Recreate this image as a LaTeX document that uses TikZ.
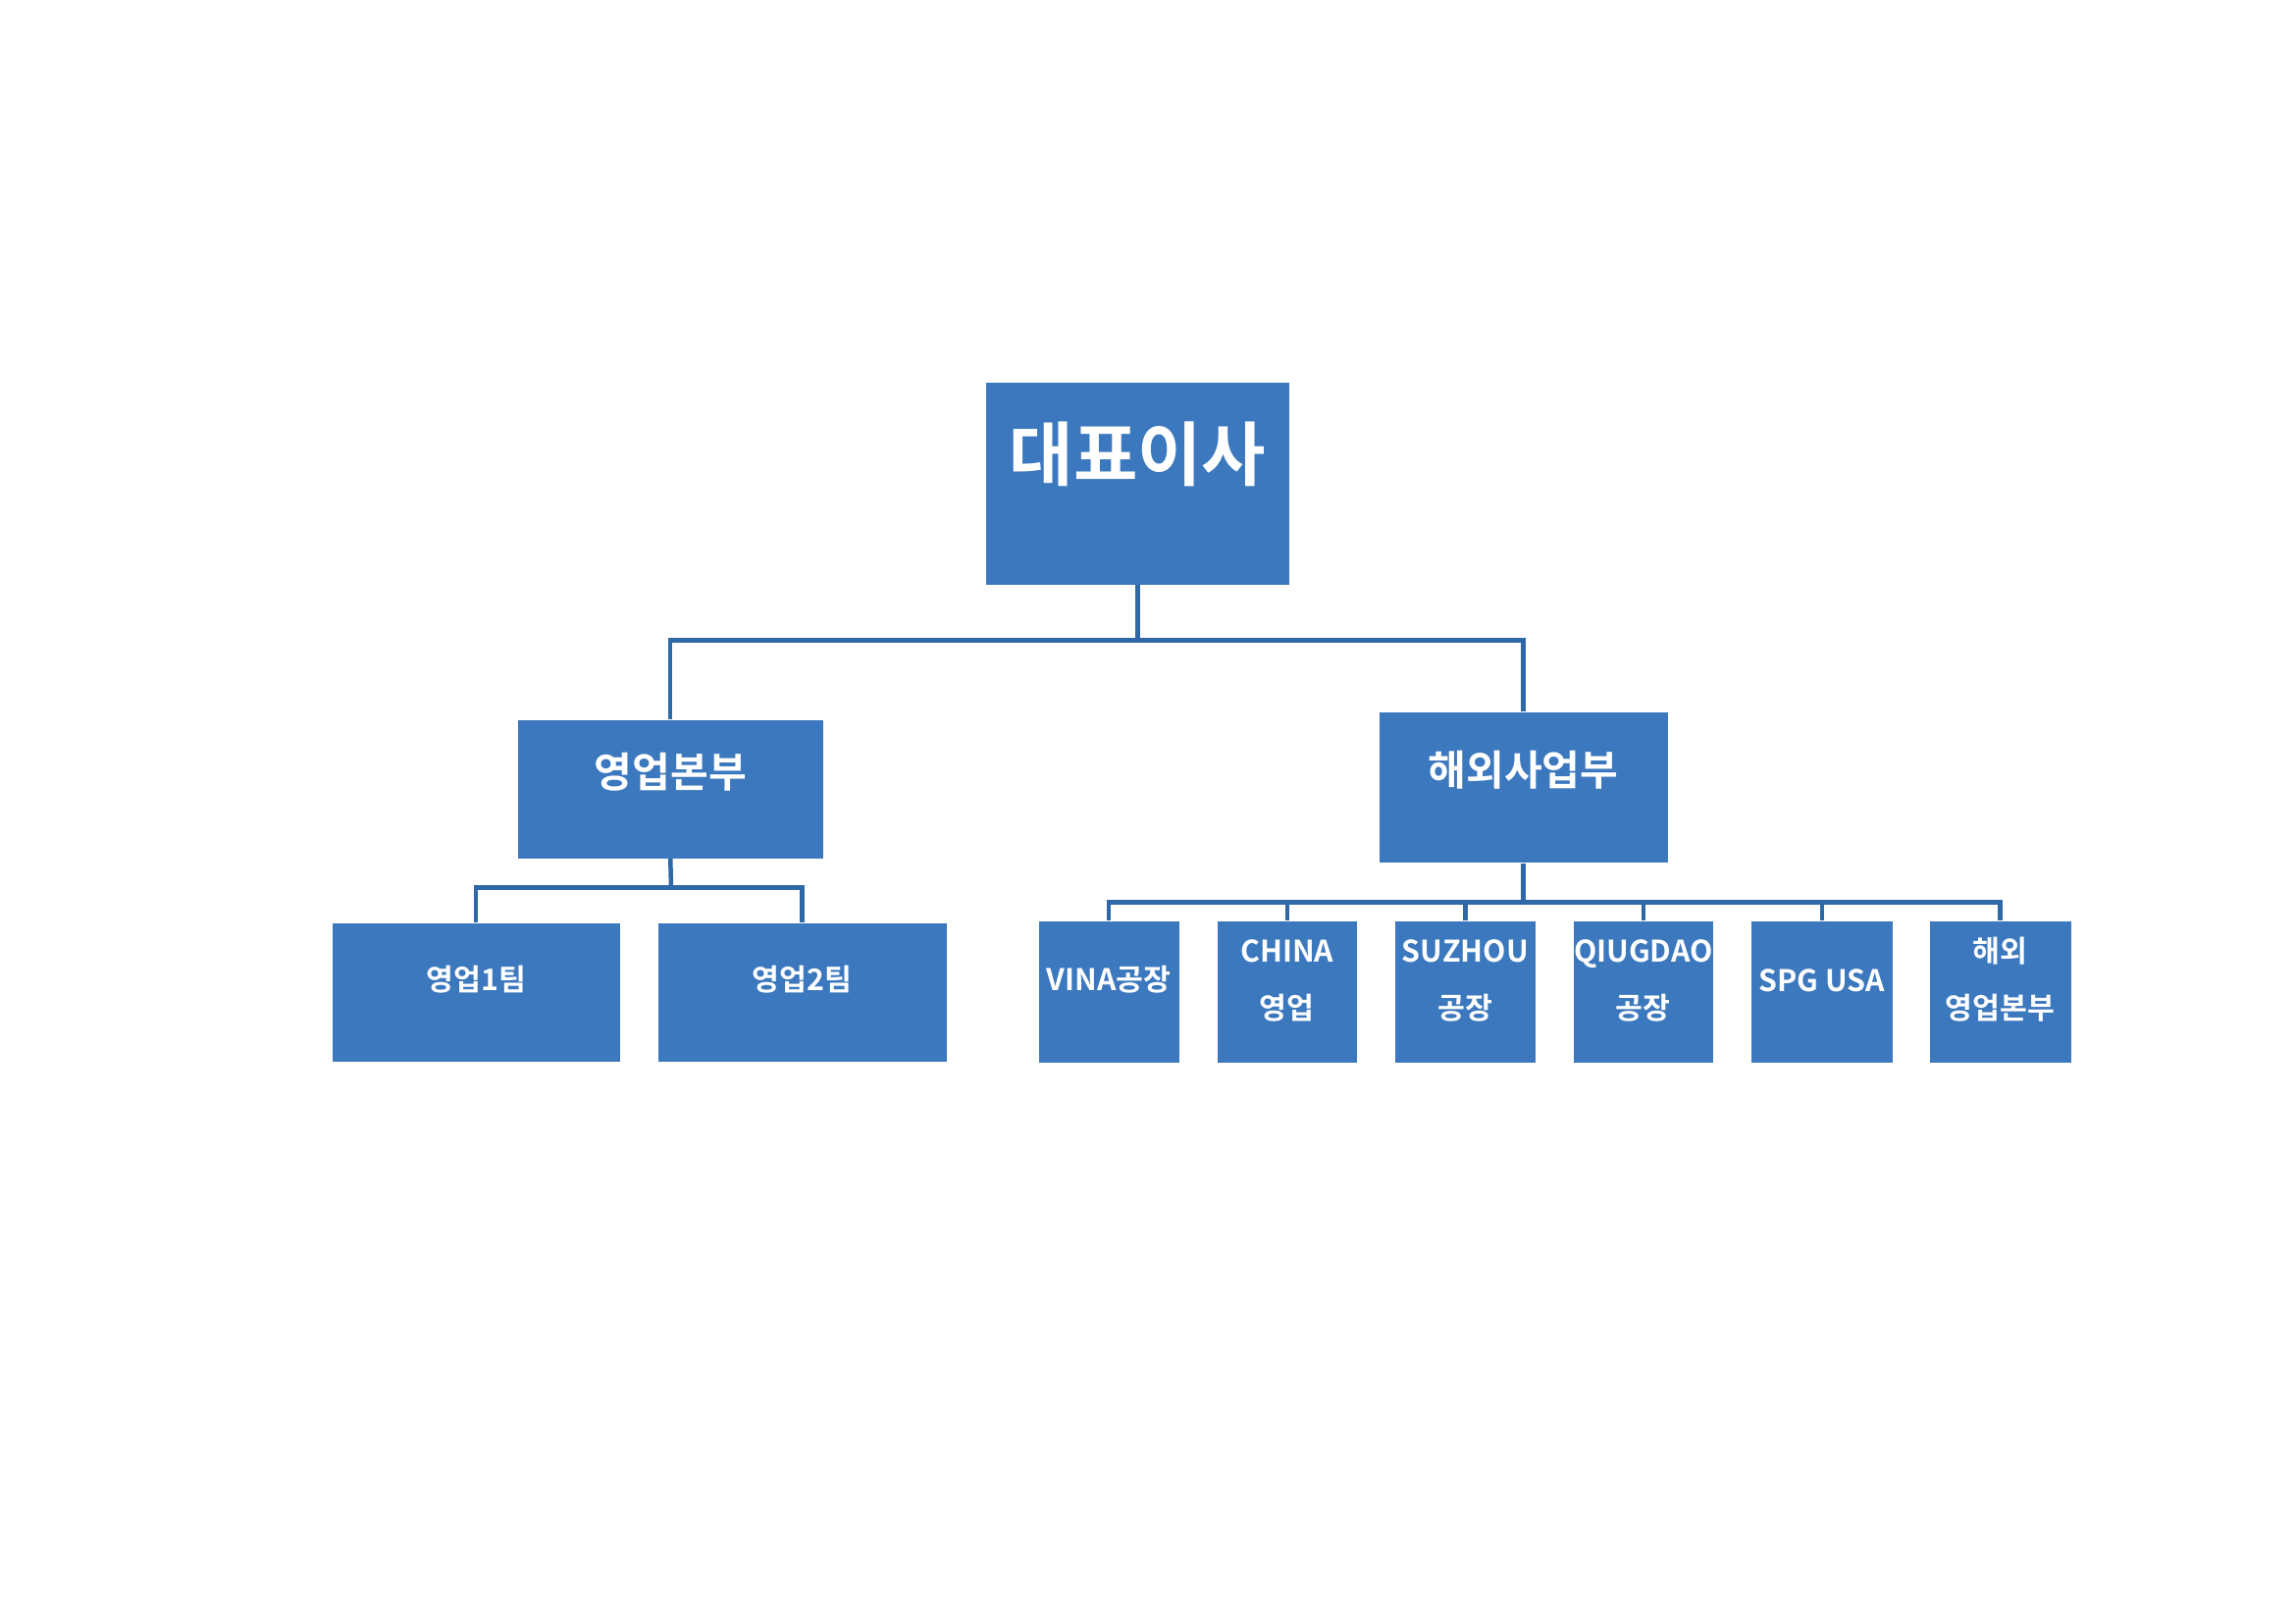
\documentclass[tikz,border=0pt]{standalone}
\usepackage{fontspec}
\newfontfamily\kr{Noto Sans CJK KR}[BoldFont={* Bold}]
\usetikzlibrary{fit}
\definecolor{boxc}{HTML}{3C78BE}
\definecolor{linec}{HTML}{2F68A6}
\tikzset{
 box/.style={fill=boxc, draw=none, inner sep=0pt, text=white, align=center, font=\kr\bfseries},
 big/.style={font=\kr\bfseries\fontsize{27}{30}\selectfont},
 mid/.style={font=\kr\bfseries\fontsize{16}{20}\selectfont},
 small/.style={font=\kr\bfseries\fontsize{11.5}{22}\selectfont},
 conn/.style={draw=linec, line width=1.7pt}
}
\begin{document}
\begin{tikzpicture}[x=0.02cm,y=-0.02cm]
\fill[white] (0,0) rectangle (1560,1103);
\useasboundingbox (0,0) rectangle (1560,1103);
\node[box,big,fit={(670,260) (876,397)}] (ceo) {대표이사};
\node[box,mid,fit={(352,489) (559,583)}] (sales) {영업본부};
\node[box,mid,fit={(937,484) (1133,586)}] (ovs) {해외사업부};
\node[box,small,fit={(226,627) (421,721)}] (t1) {영업1팀};
\node[box,small,fit={(447,627) (643,721)}] (t2) {영업2팀};
\node[box,small,fit={(706,626) (801,722)}] (c1) {VINA공장};
\node[box,small,fit={(827,626) (922,722)}] (c2) {CHINA\\영업};
\node[box,small,fit={(948,626) (1043,722)}] (c3) {SUZHOU\\공장};
\node[box,small,fit={(1069,626) (1164,722)}] (c4) {QIUGDAO\\공장};
\node[box,small,fit={(1190,626) (1286,722)}] (c5) {SPG USA};
\node[box,small,fit={(1311,626) (1407,722)}] (c6) {해외\\영업본부};
\coordinate (j1) at (773,435);
\coordinate (j2) at (456,603);
\coordinate (j3) at (1035,613);
\draw[conn] (ceo.south) -- (j1);
\draw[conn] (sales.north) |- (j1) -| (ovs.north);
\draw[conn] (sales.south) -- (j2);
\draw[conn] (t1.north) |- (j2) -| (t2.north);
\draw[conn] (ovs.south) -- (j3);
\draw[conn] (c1.north) |- (j3) -| (c6.north);
\foreach \n in {c2,c3,c4,c5} \draw[conn] (\n.north) -- (\n.north |- j3);
\end{tikzpicture}
\end{document}
